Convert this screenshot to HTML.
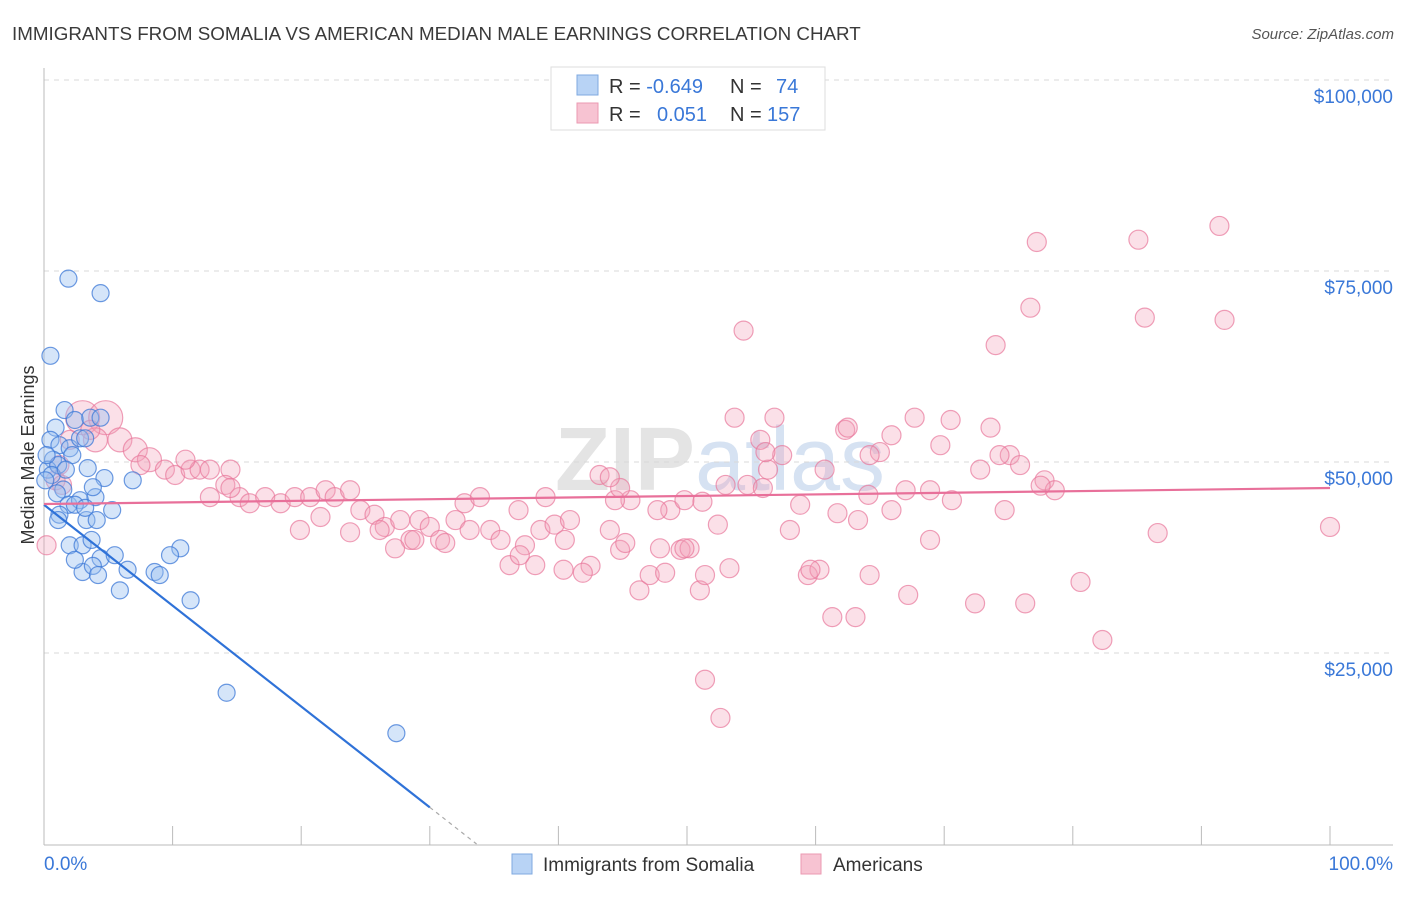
<!DOCTYPE html>
<html><head><meta charset="utf-8"><style>
body{margin:0;background:#fff;font-family:"Liberation Sans",sans-serif}
svg text{font-family:"Liberation Sans",sans-serif}
</style></head><body>
<svg id="chart" width="1406" height="892" viewBox="0 0 1406 892">
<text x="12" y="40" font-size="18.8" fill="#3a3a3a">IMMIGRANTS FROM SOMALIA VS AMERICAN MEDIAN MALE EARNINGS CORRELATION CHART</text>
<text x="1394" y="39" font-size="15" fill="#555" font-style="italic" text-anchor="end">Source: ZipAtlas.com</text>
<text x="720" y="490" font-size="90" fill="#e4e4e4" text-anchor="middle" font-weight="bold">ZIP<tspan fill="#d6e2f2" font-weight="normal">atlas</tspan></text>
<g id="grid"></g>
<g id="axes"></g>
<g id="pink"></g>
<g id="blue"></g>
<g id="trends"></g>
<text transform="translate(34,455) rotate(-90)" font-size="18" fill="#333" text-anchor="middle">Median Male Earnings</text>
<g>
<rect x="551" y="67" width="274" height="63" fill="#fff" stroke="#ddd"/>
<rect x="577" y="75" width="21" height="20" fill="#b8d3f5" stroke="#7fa9e0"/>
<rect x="577" y="103" width="21" height="20" fill="#f7c3d2" stroke="#eb9ab2"/>
<text x="609" y="93" font-size="20" fill="#333">R = <tspan fill="#3a78d8">-0.649</tspan><tspan x="730">N = </tspan><tspan x="776" fill="#3a78d8">74</tspan></text>
<text x="609" y="121" font-size="20" fill="#333">R = <tspan x="657" fill="#3a78d8">0.051</tspan><tspan x="730">N = </tspan><tspan x="767" fill="#3a78d8">157</tspan></text>
</g>
<g>
<rect x="512" y="854" width="20" height="20" fill="#b8d3f5" stroke="#7fa9e0"/>
<text x="543" y="871" font-size="19" fill="#333">Immigrants from Somalia</text>
<rect x="801" y="854" width="20" height="20" fill="#f7c3d2" stroke="#eb9ab2"/>
<text x="833" y="871" font-size="19" fill="#333">Americans</text>
</g>
</svg>
<script>
const yTicks=[25000,50000,75000,100000];
const yTickLabels=["$25,000","$50,000","$75,000","$100,000"];
const xTicks=[0,10,20,30,40,50,60,70,80,90,100];
const blueX=[1.9,4.4,0.5,1.6,0.9,0.5,1.2,2.0,2.8,0.7,0.3,1.1,2.2,3.2,2.4,3.6,4.4,1.5,3.4,4.7,6.9,1.0,1.9,2.8,4.0,3.8,5.3,3.3,4.1,1.2,2.4,2.0,3.0,4.4,5.5,3.0,3.8,4.2,6.5,8.6,9.0,5.9,10.6,9.8,11.4,14.2,27.4,1.1,0.2,0.6,1.7,2.4,3.7,3.2,0.1];
const blueY=[74.0,72.1,63.9,56.8,54.5,52.9,52.2,51.8,53.1,50.3,49.0,49.6,50.9,53.1,55.5,55.8,55.8,46.4,49.2,47.9,47.6,45.9,44.4,45.0,45.4,46.7,43.7,42.4,42.4,43.1,44.4,39.1,39.1,37.4,37.8,35.6,36.4,35.2,35.9,35.6,35.2,33.2,38.7,37.8,31.9,19.8,14.5,42.4,50.9,48.3,49.0,37.2,39.8,44.0,47.6];
const pinkX=[3.0,4.8,4.0,5.9,7.1,8.2,9.4,10.2,11.4,12.1,12.9,14.5,12.9,14.1,15.2,16.0,17.2,18.4,19.5,20.7,21.9,22.6,23.8,24.6,25.7,26.5,27.7,28.5,29.2,30.0,30.8,32.0,32.7,33.9,34.7,35.5,36.9,37.4,38.6,39.0,39.7,40.5,40.9,42.5,43.2,44.0,44.8,45.6,46.3,47.1,47.9,48.7,49.5,50.2,51.0,51.4,52.6,51.4,52.4,53.3,53.7,54.4,54.7,55.7,56.3,56.8,57.4,58.0,58.8,59.4,60.3,60.7,61.3,61.7,62.3,63.1,63.3,64.1,64.2,65.0,65.9,67.0,67.2,67.7,68.9,69.7,70.5,70.6,72.4,73.6,74.0,75.1,74.7,75.9,76.3,76.7,77.2,77.8,78.6,80.6,82.3,85.1,85.6,86.6,91.4,91.8,100,0.2,0.9,1.4,2.0,1.2,3.6,7.5,11.0,14.5,19.9,21.5,23.8,26.1,27.3,28.8,31.2,33.1,36.2,38.2,40.4,41.9,44.4,45.2,47.7,48.3,49.8,53.0,55.9,56.1,59.6,62.5,64.2,65.9,68.9,72.8,74.3,77.5,44.8,44.0,49.8,51.2,37.0];
const pinkY=[55.8,55.8,52.9,52.9,51.6,50.3,49.0,48.3,49.0,49.0,49.0,49.0,45.4,47.0,45.4,44.6,45.4,44.6,45.4,45.4,46.3,45.4,46.3,43.7,43.1,41.5,42.4,39.8,42.4,41.5,39.8,42.4,44.6,45.4,41.1,39.8,43.7,39.1,41.1,45.4,41.8,39.8,42.4,36.4,48.3,41.1,38.5,45.0,33.2,35.2,38.7,43.7,38.5,38.7,33.2,21.5,16.5,35.2,41.8,36.1,55.8,67.2,47.0,52.9,49.0,55.8,50.9,41.1,44.4,35.2,35.9,49.0,29.7,43.3,54.2,29.7,42.4,45.7,35.2,51.3,43.7,46.3,32.6,55.8,39.8,52.2,55.5,45.0,31.5,54.5,65.3,50.9,43.7,49.6,31.5,70.2,78.8,47.6,46.3,34.3,26.7,79.1,68.9,40.7,80.9,68.6,41.5,39.1,47.6,47.0,52.9,49.6,54.2,49.6,50.3,46.6,41.1,42.8,40.8,41.1,38.7,39.8,39.4,41.1,36.5,36.5,35.9,35.5,45.0,39.4,43.7,35.5,38.7,47.0,46.6,51.3,35.9,54.5,50.9,53.5,46.3,49.0,50.9,46.9,46.6,48.0,45.0,44.8,37.8];
const blueTrend=[44.4,-1.32];
const pinkTrend=[44.5,0.021];

const X0=44,X1=1330,YB=844;
const sx=p=>X0+(X1-X0)*p/100;
const sy=k=>YB-k*191/25;
const NS="http://www.w3.org/2000/svg";
function mk(tag,attrs,parent){const e=document.createElementNS(NS,tag);for(const k in attrs)e.setAttribute(k,attrs[k]);parent.appendChild(e);return e;}
const grid=document.getElementById('grid'),axes=document.getElementById('axes');
yTicks.forEach((v,i)=>{
  const y=sy(v/1000);
  const l=mk('line',{x1:44,x2:1393,y1:y,y2:y,stroke:'#d8d8d8','stroke-dasharray':'5,5'},grid);
  
  
  const t=mk('text',{x:1393,y:y+23,'font-size':19,fill:'#3a78d8','text-anchor':'end'},axes);
  t.textContent=yTickLabels[i];
  
  
});
const ax=mk('line',{x1:44,x2:44,y1:68,y2:845,stroke:'#bbb'},axes);


const bx=mk('line',{x1:44,x2:1393,y1:845,y2:845,stroke:'#bbb'},axes);


xTicks.forEach(p=>{const l=mk('line',{x1:sx(p),x2:sx(p),y1:826,y2:845,stroke:'#bbb'},axes);
  
  });
const xl=mk('text',{x:44,y:870,'font-size':19,fill:'#3a78d8'},axes);xl.textContent='0.0%';


const xr=mk('text',{x:1393,y:870,'font-size':19,fill:'#3a78d8','text-anchor':'end'},axes);xr.textContent='100.0%';



const pg=document.getElementById('pink');
pinkX.forEach((x,i)=>{const r=i<2?17:(i<6?12:9.5);
  const c=mk('circle',{cx:sx(x),cy:sy(pinkY[i]),r:r,fill:'rgba(244,160,185,0.33)',stroke:'rgba(232,120,155,0.7)','stroke-width':1.2},pg);
  
  });
const bg=document.getElementById('blue');
blueX.forEach((x,i)=>{
  const c=mk('circle',{cx:sx(x),cy:sy(blueY[i]),r:8.5,fill:'rgba(150,190,240,0.4)',stroke:'rgba(60,120,215,0.75)','stroke-width':1.2},bg);
  
  });
const tg=document.getElementById('trends');
const bEnd=30, bZero=-blueTrend[0]/blueTrend[1];
const bl=mk('line',{x1:sx(0),y1:sy(blueTrend[0]),x2:sx(bEnd),y2:sy(blueTrend[0]+blueTrend[1]*bEnd),stroke:'#2f72d8','stroke-width':2.2},tg);


const bd=mk('line',{x1:sx(bEnd),y1:sy(blueTrend[0]+blueTrend[1]*bEnd),x2:sx(bZero),y2:sy(0),stroke:'#aaa','stroke-width':1.2,'stroke-dasharray':'4,4'},tg);


const pl=mk('line',{x1:sx(0),y1:sy(pinkTrend[0]),x2:sx(100),y2:sy(pinkTrend[0]+pinkTrend[1]*100),stroke:'#e8709a','stroke-width':2.2},tg);


</script>
</body></html>
